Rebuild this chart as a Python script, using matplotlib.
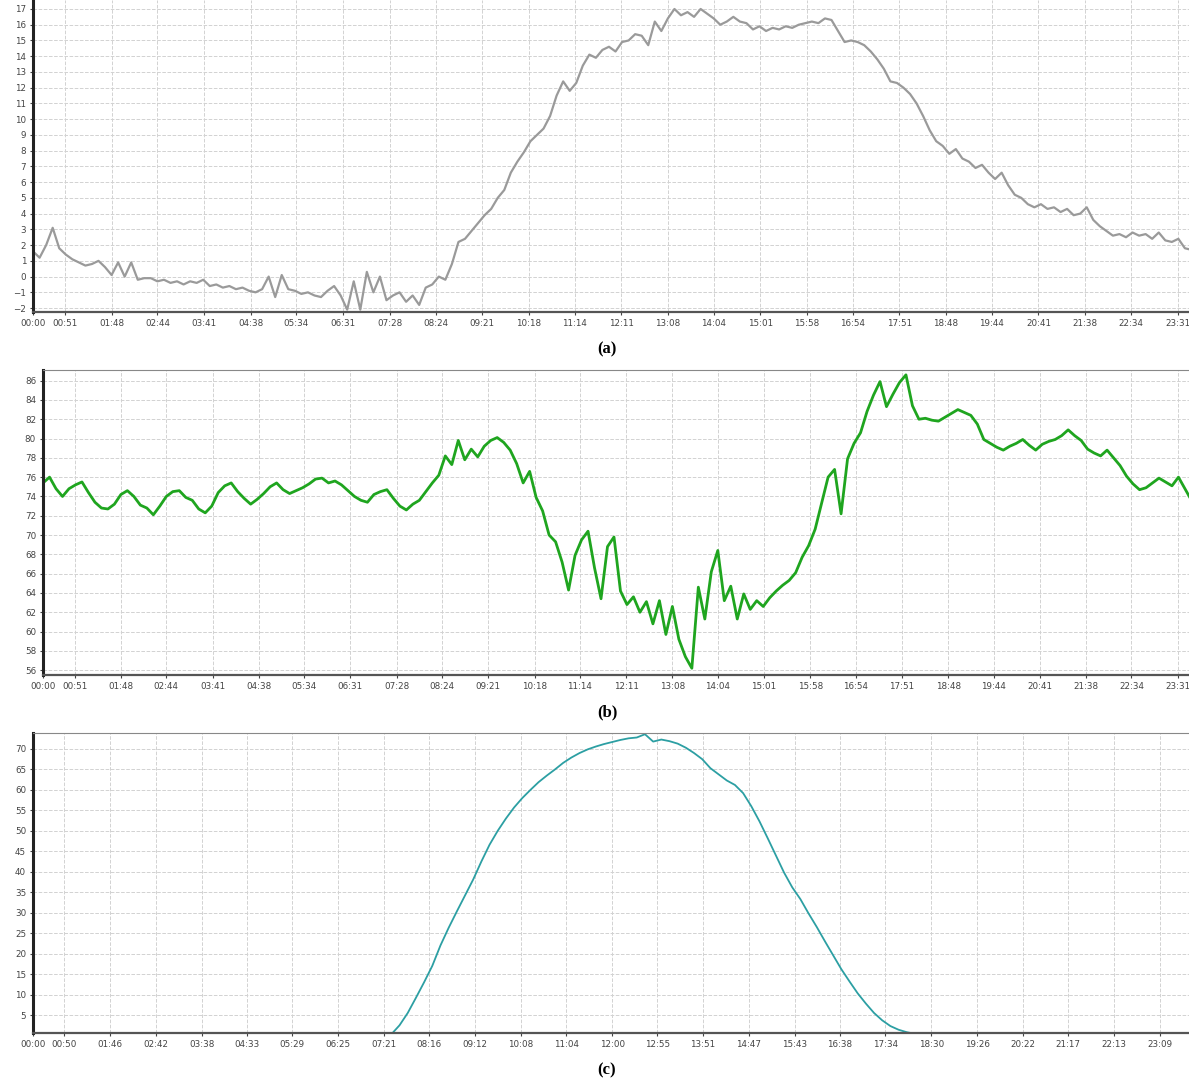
import numpy as np
import matplotlib
matplotlib.use("Agg")
import matplotlib.pyplot as plt

# sampling: every 8 minutes starting 00:12 (panels a, b); panel c every 10 minutes
step_ab = 8
start_ab = 12
start_c = 450
step_c = 10

temperature = [
    1.6, 1.2, 2.0, 3.1, 1.8, 1.4, 1.1, 0.9, 0.7, 0.8, 1.0, 0.6, 0.1, 0.9, 0.0, 0.9,
    -0.2, -0.1, -0.1, -0.3, -0.2, -0.4, -0.3, -0.5, -0.3, -0.4, -0.2, -0.6, -0.5, -0.7,
    -0.6, -0.8, -0.7, -0.9, -1.0, -0.8, 0.0, -1.3, 0.1, -0.8, -0.9, -1.1, -1.0, -1.2,
    -1.3, -0.9, -0.6, -1.2, -2.1, -0.3, -2.1, 0.3, -1.0, 0.0, -1.5, -1.2, -1.0, -1.6,
    -1.2, -1.8, -0.7, -0.5, 0.0, -0.2, 0.8, 2.2, 2.4, 2.9, 3.4, 3.9, 4.3, 5.0, 5.5,
    6.6, 7.3, 7.9, 8.6, 9.0, 9.4, 10.2, 11.5, 12.4, 11.8, 12.3, 13.4, 14.1, 13.9, 14.4,
    14.6, 14.3, 14.9, 15.0, 15.4, 15.3, 14.7, 16.2, 15.6, 16.4, 17.0, 16.6, 16.8, 16.5,
    17.0, 16.7, 16.4, 16.0, 16.2, 16.5, 16.2, 16.1, 15.7, 15.9, 15.6, 15.8, 15.7, 15.9,
    15.8, 16.0, 16.1, 16.2, 16.1, 16.4, 16.3, 15.6, 14.9, 15.0, 14.9, 14.7, 14.3, 13.8,
    13.2, 12.4, 12.3, 12.0, 11.6, 11.0, 10.2, 9.3, 8.6, 8.3, 7.8, 8.1, 7.5, 7.3, 6.9,
    7.1, 6.6, 6.2, 6.6, 5.8, 5.2, 5.0, 4.6, 4.4, 4.6, 4.3, 4.4, 4.1, 4.3, 3.9, 4.0,
    4.4, 3.6, 3.2, 2.9, 2.6, 2.7, 2.5, 2.8, 2.6, 2.7, 2.4, 2.8, 2.3, 2.2, 2.4, 1.8, 1.7,
]

humidity = [
    75.4, 76.0, 74.8, 74.0, 74.8, 75.2, 75.5, 74.4, 73.4, 72.8, 72.7, 73.2, 74.2, 74.6,
    74.0, 73.1, 72.8, 72.1, 73.0, 74.0, 74.5, 74.6, 73.9, 73.6, 72.7, 72.3, 73.0, 74.4,
    75.1, 75.4, 74.5, 73.8, 73.2, 73.7, 74.3, 75.0, 75.4, 74.7, 74.3, 74.6, 74.9, 75.3,
    75.8, 75.9, 75.4, 75.6, 75.2, 74.6, 74.0, 73.6, 73.4, 74.2, 74.5, 74.7, 73.8, 73.0,
    72.6, 73.2, 73.6, 74.5, 75.4, 76.2, 78.2, 77.3, 79.8, 77.8, 78.9, 78.1, 79.2, 79.8,
    80.1, 79.6, 78.8, 77.4, 75.4, 76.6, 73.9, 72.5, 70.0, 69.3, 67.2, 64.3, 67.9, 69.5,
    70.4, 66.6, 63.4, 68.8, 69.8, 64.2, 62.8, 63.6, 62.0, 63.1, 60.8, 63.2, 59.7, 62.6,
    59.2, 57.4, 56.2, 64.6, 61.3, 66.2, 68.4, 63.2, 64.7, 61.3, 63.9, 62.3, 63.2, 62.6,
    63.5, 64.2, 64.8, 65.3, 66.1, 67.7, 68.9, 70.6, 73.3, 76.0, 76.8, 72.2, 77.9, 79.5,
    80.6, 82.8, 84.5, 85.9, 83.3, 84.6, 85.8, 86.6, 83.4, 82.0, 82.1, 81.9, 81.8, 82.2,
    82.6, 83.0, 82.7, 82.4, 81.5, 79.9, 79.5, 79.1, 78.8, 79.2, 79.5, 79.9, 79.3, 78.8,
    79.4, 79.7, 79.9, 80.3, 80.9, 80.3, 79.8, 78.9, 78.5, 78.2, 78.8, 78.0, 77.2, 76.1,
    75.3, 74.7, 74.9, 75.4, 75.9, 75.5, 75.1, 76.0, 74.8, 73.6,
]

irradiance = [
    0.3, 2.5, 5.5, 9.2, 13.0, 17.0, 22.0, 26.3, 30.3, 34.2, 38.1, 42.5, 46.6, 50.0,
    53.0, 55.7, 58.0, 60.0, 61.9, 63.5, 65.0, 66.6, 67.9, 69.0, 69.9, 70.6, 71.2, 71.7,
    72.2, 72.6, 72.8, 73.6, 71.8, 72.3, 71.9, 71.3, 70.3, 69.0, 67.5, 65.3, 63.8, 62.3,
    61.2, 59.2, 56.0, 52.3, 48.2, 44.0, 39.8, 36.2, 33.3, 29.8, 26.5, 23.0, 19.6, 16.2,
    13.2, 10.3, 7.8, 5.5, 3.7, 2.3, 1.4, 0.8, 0.4, 0.1, 0.0,
]

labels_ab = ["00:00", "00:51", "01:48", "02:44", "03:41", "04:38", "05:34", "06:31",
             "07:28", "08:24", "09:21", "10:18", "11:14", "12:11", "13:08", "14:04",
             "15:01", "15:58", "16:54", "17:51", "18:48", "19:44", "20:41", "21:38",
             "22:34", "23:31"]
labels_c = ["00:00", "00:50", "01:46", "02:42", "03:38", "04:33", "05:29", "06:25",
            "07:21", "08:16", "09:12", "10:08", "11:04", "12:00", "12:55", "13:51",
            "14:47", "15:43", "16:38", "17:34", "18:30", "19:26", "20:22", "21:17",
            "22:13", "23:09"]

t_ab = start_ab + step_ab * np.arange(len(temperature))
t_c = start_c + step_c * np.arange(len(irradiance))
xmin, xmax = 12, 1425


def tick_pos(labels):
    pos = [int(s[:2]) * 60 + int(s[3:]) for s in labels]
    pos[0] = xmin
    return pos


def style(ax, labels, yticks, ylim, top=True):
    ax.set_xlim(xmin, xmax)
    ax.set_ylim(*ylim)
    ax.set_xticks(tick_pos(labels))
    ax.set_xticklabels(labels)
    ax.set_yticks(yticks)
    ax.tick_params(labelsize=6.3, colors="#444444", length=2, pad=3)
    ax.grid(True, color="#d2d2d2", linestyle="--", linewidth=0.7)
    ax.spines["right"].set_visible(False)
    ax.spines["top"].set_visible(top)
    ax.spines["top"].set_color("#888888")
    ax.spines["left"].set_linewidth(2.2)
    ax.spines["left"].set_color("#222222")
    ax.spines["bottom"].set_linewidth(1.6)
    ax.spines["bottom"].set_color("#555555")


fig = plt.figure(figsize=(11.89, 10.8), dpi=100)

ax1 = fig.add_axes([0.0278, 0.7111, 0.9722, 0.2889])
ax1.plot(t_ab, temperature, color="#9a9a9a", linewidth=1.6)
style(ax1, labels_ab, range(-2, 18), (-2.25, 17.57), top=False)

ax2 = fig.add_axes([0.0362, 0.375, 0.9638, 0.2824])
ax2.plot(t_ab, humidity, color="#1fa51f", linewidth=2.0)
style(ax2, labels_ab, range(56, 87, 2), (55.5, 87.1))

ax3 = fig.add_axes([0.0278, 0.0435, 0.9722, 0.2778])
ax3.plot(t_c, irradiance, color="#2c9fa3", linewidth=1.3)
style(ax3, labels_c, range(5, 71, 5), (0.6, 73.9))

cap = dict(ha="center", va="center", fontsize=12, fontweight="bold",
           family="Liberation Serif")
fig.text(607 / 1189, 1 - 349 / 1080, "(a)", **cap)
fig.text(607 / 1189, 1 - 712 / 1080, "(b)", **cap)
fig.text(607 / 1189, 1 - 1070 / 1080, "(c)", **cap)

fig.savefig("out.png", dpi=100)
